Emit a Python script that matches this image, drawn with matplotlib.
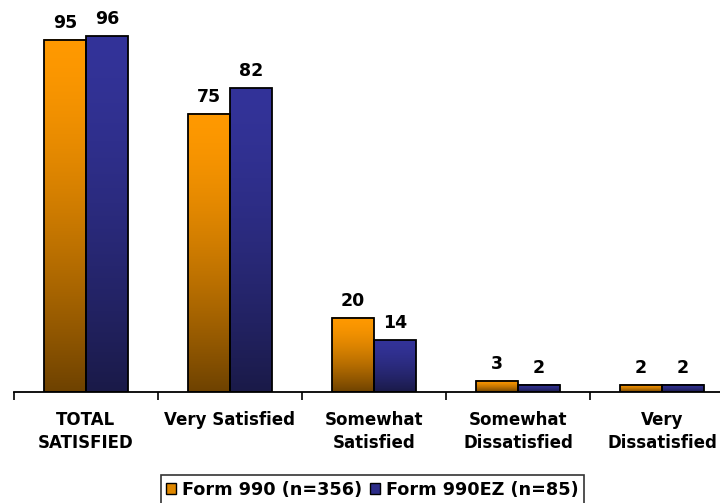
#!/usr/bin/env python3
"""Satisfaction by form type: grouped bars with a vertical colour fade."""

import numpy as np
import matplotlib

matplotlib.use("Agg")
import matplotlib.pyplot as plt
from matplotlib.colors import to_rgb
from matplotlib.patches import Patch

CATEGORIES = ["TOTAL\nSATISFIED", "Very Satisfied", "Somewhat\nSatisfied",
              "Somewhat\nDissatisfied", "Very\nDissatisfied"]
FORM_990 = [95, 75, 20, 3, 2]
FORM_990EZ = [96, 82, 14, 2, 2]
SERIES_LABELS = ["Form 990 (n=356)", "Form 990EZ (n=85)"]

TOP_COLORS = ["#FF9900", "#333399"]
BOTTOM_COLORS = ["#6E4200", "#1A1A48"]

plt.rcParams["font.family"] = ["DejaVu Sans"]
plt.rcParams["font.weight"] = "bold"


def _fill_gradient(ax, bar, top, bottom):
    x0, w, h = bar.get_x(), bar.get_width(), bar.get_height()
    # colour holds near the top, then fades faster towards the base
    t = np.linspace(0, 1, 256)[:, None, None] ** 1.5
    img = (1 - t) * np.array(to_rgb(top)) + t * np.array(to_rgb(bottom))
    ax.imshow(img, extent=[x0, x0 + w, 0, h], origin="upper",
              aspect="auto", zorder=1, interpolation="bilinear")


fig = plt.figure(figsize=(7.2, 5.03), dpi=100)
ax = fig.add_axes([0.0194, 0.2207, 1.0, 0.737])

x = np.arange(len(CATEGORIES))
width = 0.29
for i, vals in enumerate([FORM_990, FORM_990EZ]):
    offset = (i - 0.5) * width
    bars = ax.bar(x + offset, vals, width, facecolor="none",
                  edgecolor="black", linewidth=1.3, zorder=2)
    for bar, v in zip(bars, vals):
        _fill_gradient(ax, bar, TOP_COLORS[i], BOTTOM_COLORS[i])
        ax.annotate(f"{v}", (bar.get_x() + bar.get_width() / 2, v),
                    xytext=(0, 8.5), textcoords="offset points",
                    ha="center", va="baseline", fontsize=12.5,
                    fontweight="bold")

ax.set_xlim(-0.5, len(CATEGORIES) - 0.5)
ax.set_ylim(0, 100)

for side in ["top", "right", "left"]:
    ax.spines[side].set_visible(False)
ax.spines["bottom"].set_linewidth(1.3)
ax.set_yticks([])

ax.set_xticks(x)
ax.set_xticklabels(CATEGORIES, fontsize=12, fontweight="bold", linespacing=1.3)
ax.tick_params(axis="x", which="major", length=0, pad=14)
ax.set_xticks(np.arange(-0.5, len(CATEGORIES)), minor=True)
ax.tick_params(axis="x", which="minor", length=6, width=1.2, direction="out")

handles = [Patch(facecolor=c, edgecolor="black", linewidth=1.0)
           for c in ["#E08800", "#2C2C88"]]
leg = fig.legend(handles, SERIES_LABELS, loc="upper center",
                 bbox_to_anchor=(0.517, 0.055), ncol=2, frameon=True,
                 fancybox=False, edgecolor="black", fontsize=12.7,
                 handlelength=0.55, handleheight=0.55, handletextpad=0.35,
                 columnspacing=0.45, borderpad=0.3, borderaxespad=0)
leg.get_frame().set_linewidth(1.2)
for t in leg.get_texts():
    t.set_fontweight("bold")

fig.savefig("out.png", dpi=100)
